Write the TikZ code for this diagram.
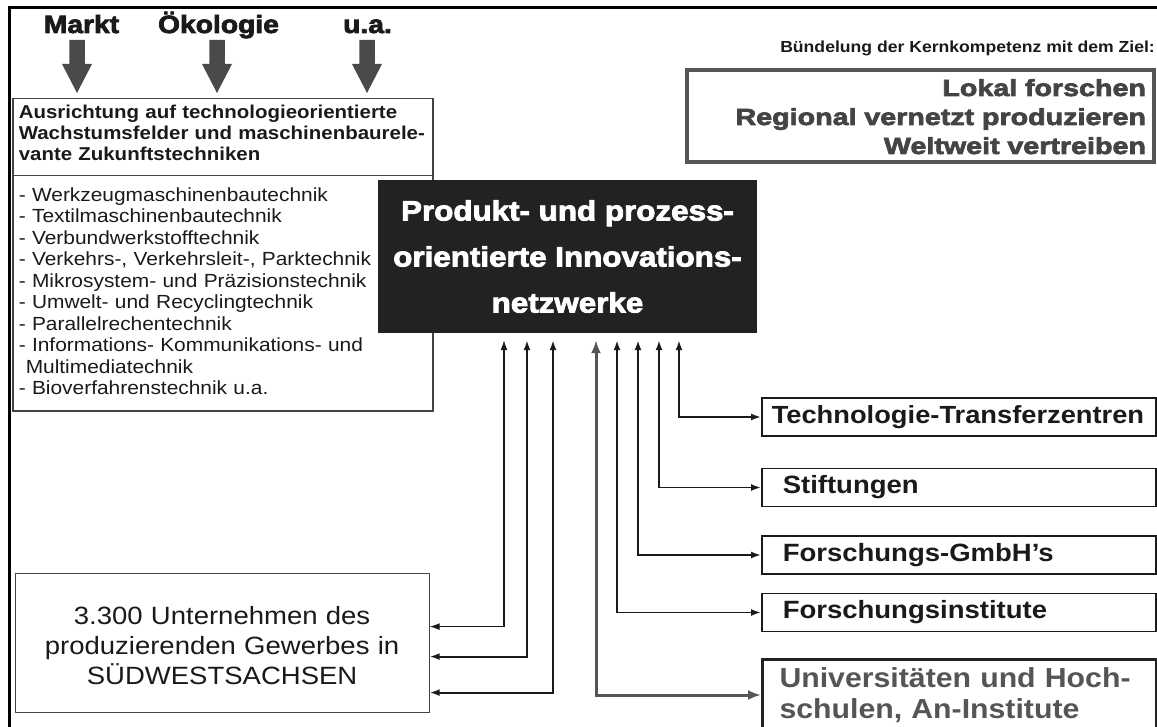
\documentclass[tikz,border=0pt]{standalone}
\usepackage{fontspec}
\setmainfont[FakeStretch=1.10]{Liberation Sans}
\newfontfamily\heavywide[FakeStretch=1.23,FakeBold=3]{Liberation Sans Bold}
\newfontfamily\heavylabel[FakeStretch=1.13,FakeBold=3]{Liberation Sans Bold}
\newfontfamily\heavynarrow[FakeStretch=1.12,FakeBold=3]{Liberation Sans Bold}
\usetikzlibrary{arrows.meta}
\definecolor{ink}{HTML}{1A1A1A}
\definecolor{boxblack}{HTML}{222222}
\definecolor{slate}{HTML}{4A4A4A}
\definecolor{edge}{HTML}{444444}
\definecolor{soft}{HTML}{555555}
\newcommand\fsz[2]{\fontsize{#1}{#2}\selectfont}
% block arrow pointing down, hanging below a label's baseline (#2 = sideways offset)
\newcommand\blockarrow[2]{%
  \fill[slate] (#1.base) ++(#2-7.75,7) -- ++(15.5,0) -- ++(0,24) -- ++(7.25,0)
    -- ++(-15,29) -- ++(-15,-29) -- ++(7.25,0) -- cycle;}

\tikzset{
  driver/.style={font=\heavylabel\fsz{25pt}{28pt}, inner sep=0pt, text=ink, anchor=base},
  panel/.style={draw=edge, line width=1.5pt, anchor=north west, minimum width=420pt,
    text width=408pt, inner xsep=6pt, inner ysep=0pt, align=left, text=ink},
  partner/.style={draw=ink, line width=1.5pt, anchor=west, minimum width=394pt,
    minimum height=38pt, text width=384pt, inner xsep=5pt, align=left,
    font=\bfseries\fsz{25pt}{28pt}, text=ink},
  link/.style={draw=ink, line width=1.8pt,
    {Latex[length=10pt,width=7pt]}-{Latex[length=10pt,width=7pt]}},
  thinlink/.style={link, line width=1.2pt},
  greylink/.style={draw=soft, line width=3pt,
    {Latex[length=13pt,width=10pt]}-{Latex[length=13pt,width=10pt]}},
}

\begin{document}
\begin{tikzpicture}[x=1pt,y=-1pt]
\useasboundingbox (0,0) rectangle (1157,727);
\fill[white] (0,0) rectangle (1157,727);

% frame along the top and left edge
\draw[line width=3pt, line cap=rect] (9.5,760) -- (9.5,8) -- (1175,8);

% external drivers
\node[driver] (markt) at (81.5,33) {Markt};
\node[driver] (oeko) at (218.5,33) {Ökologie};
\node[driver] (ua) at (367.5,33) {u.a.};
\blockarrow{markt}{-4.5}
\blockarrow{oeko}{-1.5}
\blockarrow{ua}{-0.5}

% focus panel with the list of fields
\node[panel, text height=20pt, text depth=57pt, font=\bfseries\fsz{18.6pt}{21pt}] (focus) at (12,98)
  {Ausrichtung auf technologieorientierte\\Wachstumsfelder und maschinenbaurele-\\vante Zukunftstechniken};
\node[panel, text height=25.5pt, text depth=209.5pt, font=\fsz{19pt}{21.5pt}] (fields) at (12,175)
  {- Werkzeugmaschinenbautechnik\\
   - Textilmaschinenbautechnik\\
   - Verbundwerkstofftechnik\\
   - Verkehrs-, Verkehrsleit-, Parktechnik\\
   - Mikrosystem- und Präzisionstechnik\\
   - Umwelt- und Recyclingtechnik\\
   - Parallelrechentechnik\\
   - Informations- Kommunikations- und\\
   \hspace*{7pt}Multimediatechnik\\
   - Bioverfahrenstechnik u.a.};

% goal statement
\node[anchor=base east, inner sep=0pt, font=\bfseries\fsz{16pt}{18pt}, text=ink] (aimhead) at (1155,53)
  {Bündelung der Kernkompetenz mit dem Ziel:};
\node[draw=soft, line width=4pt, anchor=north west, text height=26pt, text depth=66pt,
  inner ysep=0pt, text width=451pt, inner xsep=8pt, align=right,
  font=\heavywide\fsz{23.3pt}{29pt}, text=edge] (aim) at (685,68)
  {Lokal forschen\\Regional vernetzt produzieren\\Weltweit vertreiben};

% central network
\node[fill=boxblack, minimum width=379pt, minimum height=153pt, text=white, align=center,
  font=\heavynarrow\fsz{28pt}{46pt}] (net) at (567.5,256.5)
  {Produkt- und prozess-\\orientierte Innovations-\\netzwerke};

% regional companies
\node[draw=edge, line width=1.2pt, anchor=north west, text width=400pt, inner xsep=7pt,
  inner ysep=0pt, text height=51pt, text depth=88pt, align=center,
  font=\fsz{25pt}{30pt}, text=ink] (firms) at (14.5,573)
  {3.300 Unternehmen des\\produzierenden Gewerbes in\\SÜDWESTSACHSEN};

% research partners
\node[partner, font=\bfseries\fsz{24.8pt}{28pt}] (tech) at (761,417) {\hspace*{5pt}Technologie-Transferzentren};
\node[partner] (stift) at (761,487.5) {\hspace*{16pt}Stiftungen};
\node[partner] (gmbh) at (761,555) {\hspace*{16pt}Forschungs-GmbH’s};
\node[partner] (inst) at (761,612.5) {\hspace*{16pt}Forschungsinstitute};
\node[partner, draw=boxblack, line width=3pt, minimum height=72pt, text=soft,
  font=\bfseries\fsz{27.5pt}{31pt}] (uni) at (761,695)
  {\hspace*{12pt}Universitäten und Hoch-\\\hspace*{12pt}schulen, An-Institute};

% links from the companies
\draw[thinlink, shorten >=7pt] ([yshift=16.5pt]firms.east) -| ([xshift=-63.5pt]net.south);
\draw[link, shorten >=7pt] ([yshift=-13.5pt]firms.east) -| ([xshift=-40.5pt]net.south);
\draw[link, shorten >=7pt] ([yshift=-49.5pt]firms.east) -| ([xshift=-14.5pt]net.south);

% links from the partners
\draw[greylink, shorten >=7pt] (uni.west) -| ([xshift=28.5pt]net.south);
\draw[link, shorten >=7pt] (inst.west) -| ([xshift=49.5pt]net.south);
\draw[link, shorten >=7pt] (gmbh.west) -| ([xshift=70.5pt]net.south);
\draw[link, shorten >=7pt] (stift.west) -| ([xshift=91.5pt]net.south);
\draw[link, shorten >=7pt] (tech.west) -| ([xshift=111.5pt]net.south);
\end{tikzpicture}
\end{document}
